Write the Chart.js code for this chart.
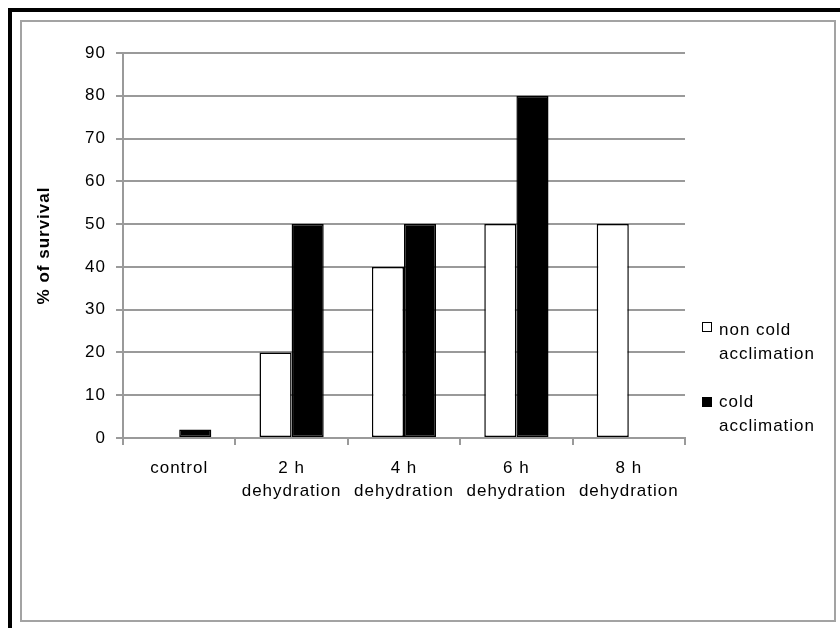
<!DOCTYPE html>
<html>
<head>
<meta charset="utf-8">
<script src="https://cdn.jsdelivr.net/npm/chart.js@4/dist/chart.umd.min.js"></script>
<style>
  html, body { margin: 0; padding: 0; background: #fff; width: 840px; height: 628px; overflow: hidden; }
  .frame-outer { position: absolute; left: 8px; top: 8px; width: 900px; height: 700px;
                 border-left: 4px solid #000; border-top: 4px solid #000; }
  .frame-inner { position: absolute; left: 20px; top: 20px; width: 812px; height: 598px;
                 border: 2px solid #a3a3a3; }
  #chart { position: absolute; left: 0; top: 0; }
  .legend { position: absolute; left: 0; top: 0; font-family: 'Liberation Sans', Arial, sans-serif;
            font-size: 17px; letter-spacing: 1px; color: #000; }
  .legend .item { position: absolute; left: 719px; line-height: 24px; white-space: nowrap; }
  .legend .swatch { position: absolute; left: 702px; width: 8px; height: 8px; border: 1px solid #000; }
</style>
</head>
<body>
<div class="frame-outer"></div>
<div class="frame-inner"></div>
<canvas id="chart" width="840" height="628"></canvas>
<div class="legend" id="legend"></div>
<script>
// Survival after dehydration, with and without cold acclimation
const categories = [
  ['control'],
  ['2 h', 'dehydration'],
  ['4 h', 'dehydration'],
  ['6 h', 'dehydration'],
  ['8 h', 'dehydration']
];
const nonColdAcclimation = [0, 20, 40, 50, 50];
const coldAcclimation = [2, 50, 50, 80, 0];
const seriesLabels = ['non cold acclimation', 'cold acclimation'];
const legendLines = [['non cold', 'acclimation'], ['cold', 'acclimation']];
const yTicks = [0, 10, 20, 30, 40, 50, 60, 70, 80, 90];
const yTitle = '% of survival';

Chart.defaults.font.family = "'Liberation Sans', Arial, sans-serif";
Chart.defaults.color = '#000';

// wide letter spacing on all canvas text
const spacing = {
  id: 'spacing',
  beforeLayout(c) { c.ctx.letterSpacing = '1px'; },
  beforeDraw(c) { c.ctx.letterSpacing = '1px'; }
};

const gridGray = '#9a9a9a';

const chart = new Chart(document.getElementById('chart'), {
  type: 'bar',
  data: {
    labels: categories,
    datasets: [
      {
        label: seriesLabels[0],
        data: nonColdAcclimation,
        backgroundColor: '#ffffff',
        borderColor: '#000000',
        borderWidth: 1.5,
        borderSkipped: false,
        categoryPercentage: 2 / 3.5,
        barPercentage: 1.0
      },
      {
        label: seriesLabels[1],
        data: coldAcclimation,
        backgroundColor: '#000000',
        borderColor: '#000000',
        borderWidth: 1.5,
        borderSkipped: false,
        categoryPercentage: 2 / 3.5,
        barPercentage: 1.0
      }
    ]
  },
  options: {
    responsive: false,
    animation: false,
    layout: { padding: { left: 0, top: 53, right: 155, bottom: 0 } },
    plugins: {
      legend: { display: false },
      tooltip: { enabled: false }
    },
    scales: {
      x: {
        offset: true,
        grid: { display: true, drawOnChartArea: false, drawTicks: true, tickLength: 7,
                color: gridGray, lineWidth: 2, offset: true },
        border: { display: true, color: gridGray, width: 2 },
        ticks: { font: { size: 17, lineHeight: '23px' }, padding: 12, maxRotation: 0, autoSkip: false },
        afterFit(s) { s.height = 190; }
      },
      y: {
        min: 0,
        max: 90,
        afterBuildTicks(s) { s.ticks = yTicks.map(v => ({ value: v })); },
        grid: { color: gridGray, lineWidth: 2, tickLength: 7, drawTicks: true },
        border: { display: true, color: gridGray, width: 2 },
        ticks: { font: { size: 17 }, padding: 10 },
        title: {
          display: true,
          text: yTitle,
          font: { size: 17, weight: 'bold', lineHeight: 1.2 },
          padding: { top: 34, bottom: 0 }
        },
        afterFit(s) { s.width = 123; }
      }
    }
  },
  plugins: [spacing]
});

// legend built from the dataset styles
const legend = document.getElementById('legend');
const legendTops = [318, 390];
const swatchTops = [322, 397];
chart.data.datasets.forEach((ds, i) => {
  const sw = document.createElement('div');
  sw.className = 'swatch';
  sw.style.top = swatchTops[i] + 'px';
  sw.style.background = ds.backgroundColor;
  legend.appendChild(sw);
  legendLines[i].forEach((line, j) => {
    const t = document.createElement('div');
    t.className = 'item';
    t.style.top = (legendTops[i] + j * 24) + 'px';
    t.textContent = line;
    legend.appendChild(t);
  });
});
</script>
</body>
</html>
